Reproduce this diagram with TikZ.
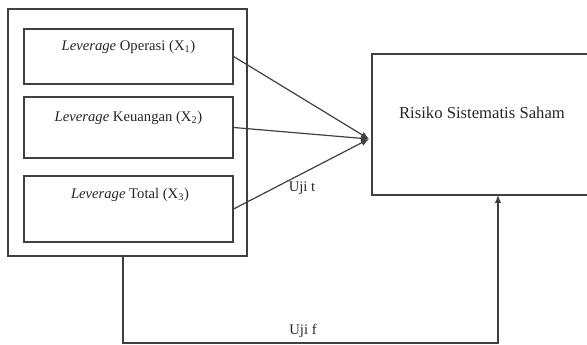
\documentclass[tikz,border=0pt]{standalone}
\usepackage{fontspec}
\setmainfont{Liberation Serif}
\usetikzlibrary{arrows.meta,calc}
\begin{document}
\begin{tikzpicture}[x=0.75pt,y=-0.75pt,
  ln/.style={draw=black!75,line width=0.9pt},
  box/.style={ln,rectangle,inner sep=0pt},
  lbl/.style={font=\fontsize{11}{13}\selectfont,inner sep=0pt,text=black!85},
  arr/.style={ln,-{Latex[length=6pt,width=5pt]}}]
\useasboundingbox (0,0) rectangle (587,345);
\node[box,minimum width=179.25pt,minimum height=185.25pt] (outer) at (127.5,132.5) {};
\node[box,minimum width=156.75pt,minimum height=41.25pt] (b1) at (128.5,56.5) {};
\node[box,minimum width=156.75pt,minimum height=45.75pt] (b2) at (128.5,127.5) {};
\node[box,minimum width=156.75pt,minimum height=49.5pt] (b3) at (128.5,209) {};
\node[box,minimum width=195pt,minimum height=105.75pt] (rbox) at (502,124.5) {};
\node[lbl] (t1) at (128.5,47) {\textit{Leverage} Operasi (X\textsubscript{1})};
\node[lbl] (t2) at (128.5,118) {\textit{Leverage} Keuangan (X\textsubscript{2})};
\node[lbl] (t3) at (130,195) {\textit{Leverage} Total (X\textsubscript{3})};
\node[lbl,font=\fontsize{12.5}{14}\selectfont] (t4) at (482,113) {Risiko Sistematis Saham};
\node[lbl] (ujit) at (302,188) {Uji t};
\node[lbl] (ujif) at (303,331) {Uji f};
\coordinate (tgt) at (369,139);
\coordinate (dn) at (123,255);
\coordinate (up) at (498,195);
\draw[arr] (b1.east) -- (tgt);
\draw[arr] (b2.east) -- (tgt);
\draw[arr] (b3.east) -- (tgt);
\draw[arr] (dn) -- (123,343) -| (up);
\end{tikzpicture}
\end{document}
